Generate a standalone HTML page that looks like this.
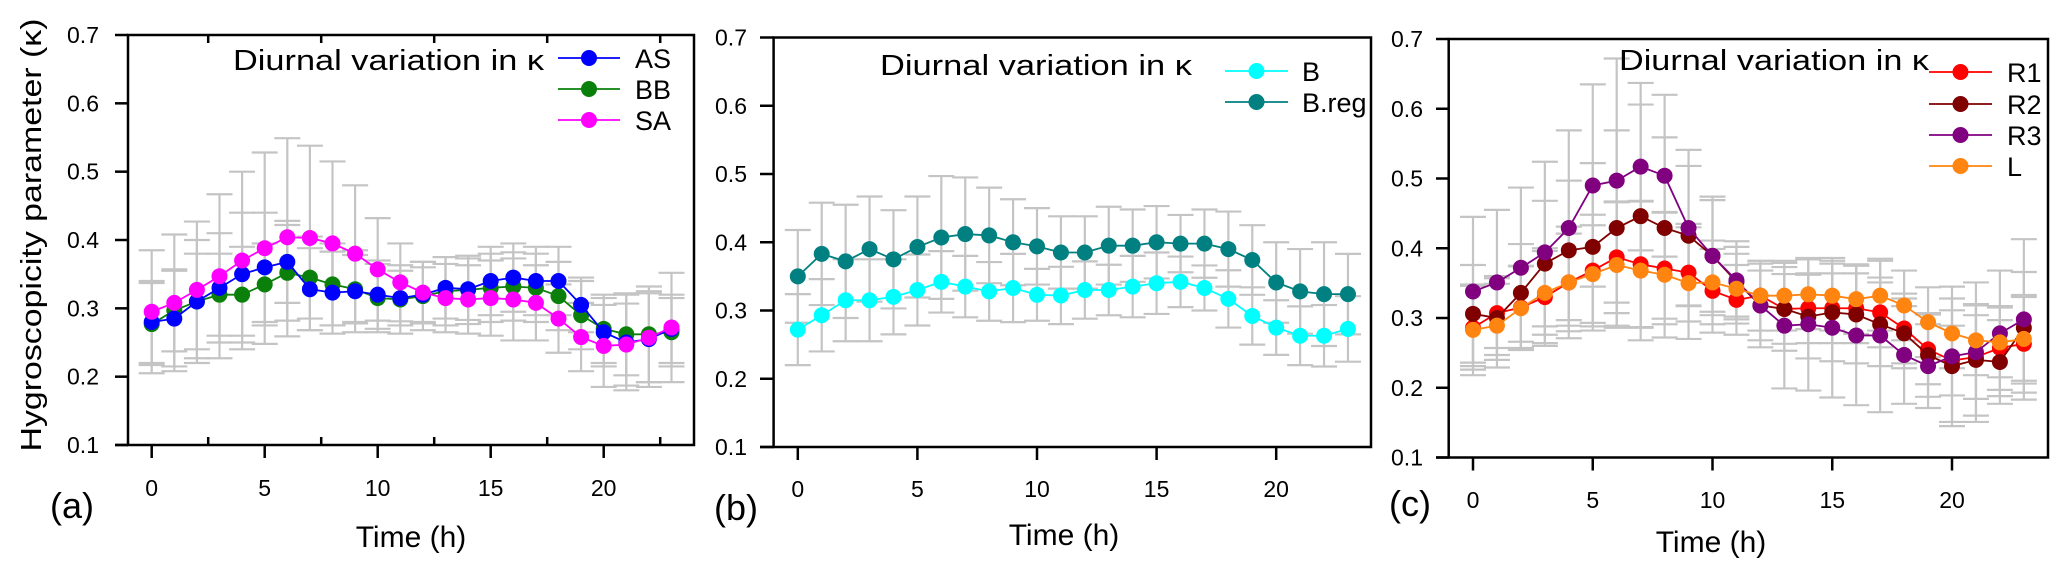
<!DOCTYPE html>
<html><head><meta charset="utf-8"><style>
html,body{margin:0;padding:0;background:#fff;}
svg{display:block;font-family:"Liberation Sans",Arial,sans-serif;}
</style></head><body>
<svg id="chart" width="2067" height="577" viewBox="0 0 2067 577" xmlns="http://www.w3.org/2000/svg"></svg>
<script>
const hours = [0,1,2,3,4,5,6,7,8,9,10,11,12,13,14,15,16,17,18,19,20,21,22,23];
const xTicks = [0,5,10,15,20];
const yTicks = [0.1,0.2,0.3,0.4,0.5,0.6,0.7];
const yTickLabels = ["0.1","0.2","0.3","0.4","0.5","0.6","0.7"];

const asVals = [0.28,0.285,0.31,0.33,0.35,0.36,0.368,0.328,0.323,0.325,0.32,0.315,0.32,0.33,0.328,0.34,0.345,0.34,0.34,0.305,0.265,0.25,0.255,0.27];
const asErr = [0.06,0.07,0.09,0.08,0.09,0.08,0.06,0.06,0.06,0.06,0.05,0.04,0.04,0.045,0.045,0.05,0.05,0.05,0.05,0.04,0.05,0.07,0.07,0.05];
const bbVals = [0.277,0.297,0.31,0.32,0.32,0.335,0.352,0.345,0.335,0.328,0.315,0.313,0.318,0.325,0.327,0.33,0.332,0.33,0.318,0.29,0.27,0.262,0.262,0.265];
const bbErr = [0.06,0.06,0.07,0.06,0.07,0.06,0.07,0.06,0.06,0.05,0.05,0.05,0.05,0.05,0.05,0.05,0.05,0.05,0.05,0.05,0.05,0.06,0.07,0.05];
const saVals = [0.295,0.308,0.327,0.347,0.37,0.388,0.404,0.403,0.395,0.38,0.357,0.338,0.323,0.315,0.313,0.315,0.313,0.308,0.285,0.258,0.245,0.247,0.257,0.272];
const saErr = [0.09,0.1,0.1,0.12,0.13,0.14,0.145,0.135,0.12,0.1,0.075,0.057,0.045,0.05,0.05,0.055,0.06,0.055,0.05,0.05,0.06,0.06,0.065,0.08];

const bVals = [0.272,0.293,0.315,0.315,0.32,0.33,0.342,0.335,0.328,0.333,0.323,0.322,0.33,0.33,0.335,0.34,0.342,0.333,0.317,0.292,0.275,0.263,0.263,0.273];
const bErr = [0.052,0.053,0.06,0.06,0.055,0.052,0.045,0.045,0.043,0.05,0.038,0.042,0.042,0.037,0.045,0.045,0.037,0.033,0.042,0.042,0.04,0.043,0.045,0.048];
const bregVals = [0.35,0.383,0.372,0.39,0.375,0.393,0.407,0.412,0.41,0.4,0.394,0.385,0.385,0.395,0.395,0.4,0.398,0.398,0.39,0.374,0.341,0.328,0.324,0.324];
const bregErr = [0.068,0.075,0.083,0.077,0.072,0.074,0.09,0.083,0.07,0.063,0.056,0.053,0.053,0.057,0.053,0.053,0.042,0.05,0.055,0.051,0.059,0.062,0.076,0.059];

const r1Vals = [0.286,0.307,0.315,0.33,0.351,0.368,0.387,0.377,0.371,0.365,0.339,0.326,0.332,0.313,0.314,0.314,0.314,0.308,0.285,0.255,0.239,0.244,0.257,0.263];
const r1Err = [0.06,0.05,0.06,0.07,0.08,0.08,0.08,0.09,0.08,0.07,0.06,0.05,0.05,0.05,0.05,0.05,0.05,0.05,0.05,0.05,0.05,0.06,0.06,0.07];
const r2Vals = [0.306,0.3,0.336,0.378,0.397,0.402,0.429,0.446,0.429,0.418,0.389,0.352,0.318,0.313,0.302,0.308,0.305,0.291,0.278,0.247,0.231,0.24,0.237,0.286];
const r2Err = [0.07,0.06,0.07,0.09,0.1,0.12,0.14,0.16,0.13,0.1,0.08,0.05,0.05,0.06,0.06,0.07,0.07,0.06,0.05,0.06,0.08,0.08,0.06,0.08];
const r3Vals = [0.338,0.351,0.372,0.394,0.429,0.49,0.497,0.517,0.504,0.429,0.389,0.354,0.318,0.289,0.291,0.286,0.275,0.275,0.247,0.231,0.245,0.251,0.278,0.298];
const r3Err = [0.107,0.104,0.115,0.13,0.14,0.145,0.175,0.12,0.116,0.112,0.085,0.056,0.06,0.09,0.095,0.1,0.1,0.11,0.07,0.06,0.1,0.1,0.09,0.115];
const lVals = [0.283,0.289,0.314,0.336,0.351,0.363,0.376,0.368,0.362,0.35,0.351,0.342,0.332,0.332,0.334,0.332,0.327,0.332,0.318,0.294,0.278,0.268,0.265,0.27];
const lErr = [0.065,0.06,0.06,0.06,0.07,0.07,0.09,0.1,0.09,0.08,0.06,0.05,0.05,0.05,0.05,0.05,0.05,0.05,0.05,0.05,0.05,0.05,0.05,0.06];

const NS = "http://www.w3.org/2000/svg";
const svg = document.getElementById('chart');
function mk(tag, attrs, parent, text){
  const e = document.createElementNS(NS, tag);
  for (const k in attrs) e.setAttribute(k, attrs[k]);
  if (text !== undefined) e.textContent = text;
  (parent||svg).appendChild(e);
  return e;
}

const panels = [
  {id:'a', left:128, right:694, top:35, bottom:445, x0:151.7, dx:22.6, labelRight:99, tickL:115, xLabY:496, timeX:411, timeY:547, tagX:72, tagY:518, minor:true,
   titleX:233, titleY:70, titleW:311, legX1:558, legX2:620, legTX:635, legRows:[58,89,120],
   series:[{name:'BB',vals:bbVals,err:bbErr,color:'#0a800a'},{name:'AS',vals:asVals,err:asErr,color:'#0000ff'},{name:'SA',vals:saVals,err:saErr,color:'#ff00ff'}],
   legendOrder:['AS','BB','SA']},
  {id:'b', left:773.6, right:1371, top:37.5, bottom:447, x0:797.8, dx:23.92, labelRight:747, tickL:760, xLabY:497, timeX:1064, timeY:545, tagX:736, tagY:520, minor:false,
   titleX:880, titleY:75, titleW:312, legX1:1225, legX2:1288, legTX:1302, legRows:[71,102],
   series:[{name:'B',vals:bVals,err:bErr,color:'#00ffff'},{name:'B.reg',vals:bregVals,err:bregErr,color:'#008080'}],
   legendOrder:['B','B.reg']},
  {id:'c', left:1448.7, right:2048, top:39, bottom:457.5, x0:1473, dx:23.95, labelRight:1423, tickL:1436, xLabY:508, timeX:1711, timeY:552, tagX:1410, tagY:516, minor:false,
   titleX:1619, titleY:70, titleW:310, legX1:1929, legX2:1992, legTX:2007, legRows:[72,104,135,166],
   series:[{name:'R1',vals:r1Vals,err:r1Err,color:'#ff0000'},{name:'R2',vals:r2Vals,err:r2Err,color:'#800000'},{name:'R3',vals:r3Vals,err:r3Err,color:'#800080'},{name:'L',vals:lVals,err:lErr,color:'#ff8410'}],
   legendOrder:['R1','R2','R3','L']}
];

panels.forEach(p => {
  const g = mk('g', {});
  
  
  const xs = h => p.x0 + h * p.dx;
  const ys = v => p.bottom - (v - 0.1) / 0.6 * (p.bottom - p.top);

  // error bars
  const eg = mk('g', {}, g);
  
  
  p.series.forEach(s => {
    hours.forEach((h, i) => {
      const x = xs(h), y1 = ys(s.vals[i] + s.err[i]), y2 = ys(s.vals[i] - s.err[i]);
      const st = {stroke:'#c4c4c4','stroke-width':2.2,fill:'none'};
      const l = mk('line', Object.assign({x1:x,x2:x,y1:y1,y2:y2}, st), eg);
      
      
      mk('line', Object.assign({x1:x-13,x2:x+13,y1:y1,y2:y1}, st), eg);
      mk('line', Object.assign({x1:x-13,x2:x+13,y1:y2,y2:y2}, st), eg);
    });
  });

  // series
  p.series.forEach(s => {
    const sg = mk('g', {}, g);
    
    
    const pts = hours.map((h, i) => xs(h) + ',' + ys(s.vals[i])).join(' ');
    mk('polyline', {points:pts, fill:'none', stroke:s.color, 'stroke-width':1.8}, sg);
    hours.forEach((h, i) => {
      const c = mk('circle', {cx:xs(h), cy:ys(s.vals[i]), r:8, fill:s.color}, sg);
      
      
    });
  });

  // axes frame
  const ax = mk('g', {stroke:'#000','stroke-width':2.5,fill:'none'}, g);
  
  
  mk('rect', {x:p.left, y:p.top, width:p.right - p.left, height:p.bottom - p.top}, ax);
  mk('line', {x1:p.tickL, x2:p.left, y1:p.bottom, y2:p.bottom}, ax);
  yTicks.forEach((v, i) => {
    mk('line', {x1:p.tickL, x2:p.left, y1:ys(v), y2:ys(v)}, ax);
    const t = mk('text', {x:p.labelRight, y:ys(v) + 8, 'text-anchor':'end', 'font-size':23, fill:'#000', stroke:'none'}, g, yTickLabels[i]);
    
    
  });
  xTicks.forEach(h => {
    mk('line', {x1:xs(h), x2:xs(h), y1:p.bottom, y2:p.bottom + 13}, ax);
    const t = mk('text', {x:xs(h), y:p.xLabY, 'text-anchor':'middle', 'font-size':23, fill:'#000', stroke:'none'}, g, String(h));
    
    
  });
  if (p.minor) {
    [2.5,7.5,12.5,17.5,22.5].forEach(h => {
      mk('line', {x1:xs(h), x2:xs(h), y1:p.bottom, y2:p.bottom - 8}, ax);
      mk('line', {x1:xs(h), x2:xs(h), y1:p.top, y2:p.top + 8}, ax);
    });
  }

  const tt = mk('text', {x:p.timeX, y:p.timeY, 'text-anchor':'middle', 'font-size':30, fill:'#000'}, g, 'Time (h)');
  
  
  const tag = mk('text', {x:p.tagX, y:p.tagY, 'text-anchor':'middle', 'font-size':36, fill:'#000'}, g, '(' + p.id + ')');
  
  
  const ti = mk('text', {x:p.titleX, y:p.titleY, 'font-size':29, fill:'#000', textLength:p.titleW, lengthAdjust:'spacingAndGlyphs'}, g, 'Diurnal variation in κ');
  
  

  // legend
  const lg = mk('g', {}, g);
  
  
  p.legendOrder.forEach((nm, k) => {
    const s = p.series.find(q => q.name === nm);
    const y = p.legRows[k];
    const e = mk('g', {}, lg);
    
    
    mk('line', {x1:p.legX1, x2:p.legX2, y1:y, y2:y, stroke:s.color, 'stroke-width':1.8}, e);
    mk('circle', {cx:(p.legX1 + p.legX2) / 2, cy:y, r:8, fill:s.color}, e);
    mk('text', {x:p.legTX, y:y + 10, 'font-size':27, fill:'#000'}, e, nm);
  });
});

const yt = mk('text', {x:0, y:0, transform:'translate(41,235) rotate(-90)', 'text-anchor':'middle', 'font-size':29, fill:'#000', textLength:433, lengthAdjust:'spacingAndGlyphs'}, svg, 'Hygroscopicity parameter (κ)');


</script>
</body></html>
